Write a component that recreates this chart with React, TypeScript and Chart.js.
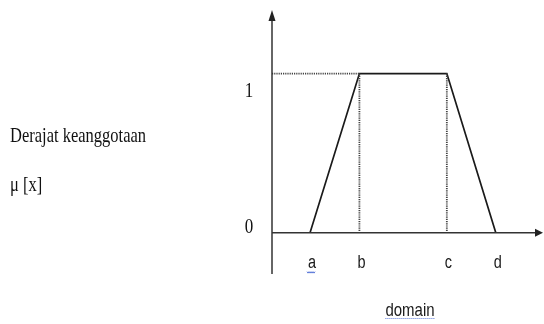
import React, { useEffect, useRef } from "react";
import { Chart, registerables } from "chart.js";

Chart.register(...registerables);

// Domain points of the trapezoidal membership function
const pointNames = ["a", "b", "c", "d"];
const pointX = [0.87, 2, 4, 5.12];
const pointMu = [0, 1, 1, 0];

// Y tick labels
const yTickLabels = ["0", "1"];
const yTickValues = [0, 1];

const yTitleLines = ["Derajat keanggotaan", "μ [x]"];
const xTitle = "domain";

const X_MIN = 0;
const X_MAX = 6.2;
const Y_MIN = -0.26;
const Y_MAX = 1.4;

const STRETCH = 1.27;

function drawText(ctx: CanvasRenderingContext2D, text: string, x: number, y: number, font: string, align: CanvasTextAlign, color: string) {
  ctx.save();
  ctx.translate(x, y);
  ctx.scale(1, STRETCH);
  ctx.font = font;
  ctx.fillStyle = color;
  ctx.textAlign = align;
  ctx.textBaseline = "alphabetic";
  ctx.fillText(text, 0, 0);
  ctx.restore();
}

const decorPlugin = {
  id: "decor",
  afterDraw(chart: any) {
    const ctx: CanvasRenderingContext2D = chart.ctx;
    const xs = chart.scales.x;
    const ys = chart.scales.y;
    const area = chart.chartArea;
    const x0 = xs.getPixelForValue(0);
    const y0 = ys.getPixelForValue(0);

    ctx.save();
    ctx.strokeStyle = "#333";
    ctx.fillStyle = "#222";
    ctx.lineWidth = 1.5;
    // y axis
    ctx.beginPath();
    ctx.moveTo(x0, area.bottom);
    ctx.lineTo(x0, area.top + 8);
    ctx.stroke();
    ctx.beginPath();
    ctx.moveTo(x0, area.top);
    ctx.lineTo(x0 - 3.5, area.top + 11);
    ctx.lineTo(x0 + 3.5, area.top + 11);
    ctx.closePath();
    ctx.fill();
    // x axis
    ctx.beginPath();
    ctx.moveTo(x0, y0);
    ctx.lineTo(area.right - 6, y0);
    ctx.stroke();
    ctx.beginPath();
    ctx.moveTo(area.right, y0);
    ctx.lineTo(area.right - 8, y0 - 4);
    ctx.lineTo(area.right - 8, y0 + 4);
    ctx.closePath();
    ctx.fill();
    ctx.restore();

    // y tick labels (serif)
    yTickLabels.forEach((lab, i) => {
      const py = ys.getPixelForValue(yTickValues[i]);
      const off = yTickValues[i] === 0 ? 0 : 23;
      drawText(ctx, lab, x0 - 23, py + off, "17px 'Liberation Serif', serif", "center", "#111");
    });

    // domain point labels (sans)
    pointNames.forEach((n, i) => {
      const px = xs.getPixelForValue(pointX[i]);
      drawText(ctx, n, px - 2, y0 + 35, "14.5px 'Liberation Sans', Arial, sans-serif", "left", "#1a1a1a");
    });

    // spellcheck wave under "a"
    const ax = xs.getPixelForValue(pointX[0]) - 3;
    ctx.save();
    ctx.strokeStyle = "#5a78d8";
    ctx.lineWidth = 1;
    ctx.beginPath();
    for (let k = 0; k <= 8; k++) {
      const yy = y0 + 39 + (k % 2 === 0 ? 0 : 1.5);
      if (k === 0) ctx.moveTo(ax + k, yy);
      else ctx.lineTo(ax + k, yy);
    }
    ctx.stroke();
    ctx.restore();

    // y title (serif, left)
    drawText(ctx, yTitleLines[0], 10, 141.5, "16.5px 'Liberation Serif', serif", "left", "#111");
    drawText(ctx, yTitleLines[1], 10, 191, "16.5px 'Liberation Serif', serif", "left", "#111");

    // x title
    const cx = 410;
    drawText(ctx, xTitle, cx, 316, "15px 'Liberation Sans', Arial, sans-serif", "center", "#1a1a1a");
    ctx.save();
    ctx.font = "15px 'Liberation Sans', Arial, sans-serif";
    const w = ctx.measureText(xTitle).width;
    ctx.strokeStyle = "#5a78d8";
    ctx.lineWidth = 1;
    ctx.setLineDash([1, 1]);
    ctx.beginPath();
    ctx.moveTo(cx - w / 2, 318.5);
    ctx.lineTo(cx + w / 2, 318.5);
    ctx.stroke();
    ctx.restore();
  },
};

export default function App() {
  const ref = useRef<HTMLCanvasElement | null>(null);

  useEffect(() => {
    if (!ref.current) return;
    const trapezoid = pointX.map((x, i) => ({ x, y: pointMu[i] }));
    const bx = pointX[1];
    const cxv = pointX[2];
    const dotted = {
      showLine: true,
      borderColor: "#444",
      borderWidth: 1.8,
      borderDash: [1.2, 1],
      pointRadius: 0,
      fill: false,
    };
    const chart = new Chart(ref.current, {
      type: "scatter",
      data: {
        datasets: [
          { ...dotted, data: [{ x: 0, y: 1 }, { x: bx, y: 1 }] },
          { ...dotted, data: [{ x: bx, y: 1 }, { x: bx, y: 0 }] },
          { ...dotted, data: [{ x: cxv, y: 1 }, { x: cxv, y: 0 }] },
          {
            data: trapezoid,
            showLine: true,
            borderColor: "#1a1a1a",
            borderWidth: 1.7,
            pointRadius: 0,
            fill: false,
            tension: 0,
          },
        ],
      },
      options: {
        responsive: false,
        animation: false,
        layout: { padding: { left: 272, right: 1, top: 10, bottom: 50 } },
        plugins: { legend: { display: false }, tooltip: { enabled: false } },
        scales: {
          x: { type: "linear", min: X_MIN, max: X_MAX, display: false },
          y: { type: "linear", min: Y_MIN, max: Y_MAX, display: false },
        },
      },
      plugins: [decorPlugin],
    });
    return () => chart.destroy();
  }, []);

  return (
    <div style={{ position: "fixed", left: 0, top: 0, width: 544, height: 324, background: "#fff" }}>
      <canvas ref={ref} width={544} height={324} style={{ display: "block" }} />
    </div>
  );
}
